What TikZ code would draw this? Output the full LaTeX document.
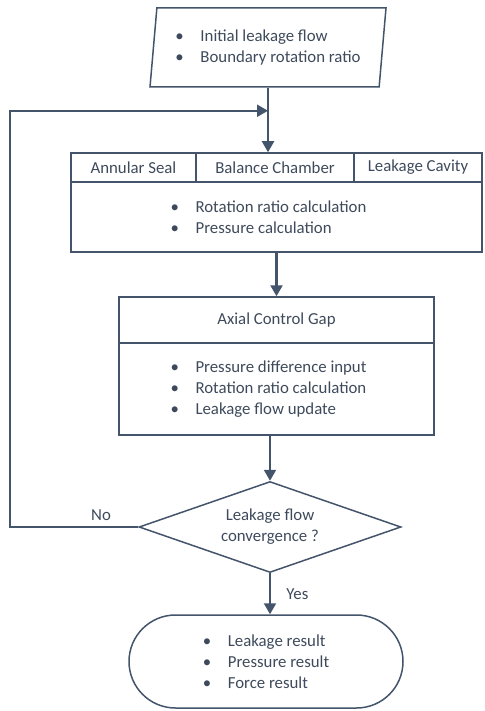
\documentclass[tikz,border=0pt]{standalone}
\usepackage{fontspec}
\setmainfont{Carlito}
\usetikzlibrary{arrows.meta, shapes.geometric, shapes.misc, calc}
\definecolor{mSlate}{HTML}{44546A}
\definecolor{mInk}{HTML}{3E4A5B}
\newcommand{\itm}[1]{\makebox[25pt][l]{\textbullet}#1}

\begin{document}
\begin{tikzpicture}[x=1pt, y=-1pt, font=\fontsize{16.8}{21}\selectfont, text=mInk,
    cell/.style={draw=mSlate, line width=1.5pt, rectangle, inner sep=0pt},
    flow/.style={draw=mSlate, line width=2.2pt, -{Triangle[length=11pt, width=12pt]}}]
    \useasboundingbox (0,0) rectangle (484,711);
    % input: initial guesses
    \node[cell, trapezium, trapezium left angle=79, trapezium right angle=101,
      trapezium stretches body, minimum width=236pt, minimum height=79pt, align=left]
      (inp) at (268,47.5) {\itm{Initial leakage flow}\\ \itm{Boundary rotation ratio}};
    % loop block with three sub-models
    \node[cell, minimum width=125pt, minimum height=29pt] (seal) at (133.5,167.5) {Annular Seal};
    \node[cell, minimum width=158pt, minimum height=29pt] (chamb) at (275,167.5) {Balance Chamber};
    \node[cell, minimum width=128pt, minimum height=29pt] (cav) at (418,167.5) {Leakage Cavity};
    \node[cell, minimum width=411pt, minimum height=70pt, align=left] (loopbody) at (276.5,217)
      {\itm{Rotation ratio calculation}\hspace*{16pt}\\ \itm{Pressure calculation}};
    % axial gap block
    \node[cell, minimum width=315pt, minimum height=46pt] (gap) at (276.5,320) {Axial Control Gap};
    \node[cell, minimum width=315pt, minimum height=92pt, align=left] (gapbody) at (276.5,389)
      {\itm{Pressure difference input}\hspace*{16pt}\\ \itm{Rotation ratio calculation}\\ \itm{Leakage flow update}};
    % decision and result
    \node[cell, diamond, aspect=2.88, minimum width=262pt, minimum height=91pt, align=center]
      (dec) at (270,527) {Leakage flow\\ convergence ?};
    \node[cell, rounded rectangle, minimum width=274pt, minimum height=93pt, align=left]
      (res) at (266,661.5) {\itm{Leakage result}\\ \itm{Pressure result}\\ \itm{Force result}};
    \coordinate (back) at (10,527);
    \coordinate (merge) at ($(inp.south)+(0,23)$);
    % connectors
    \draw[flow] (inp.south) -- (inp.south |- chamb.north);
    \draw[flow] (loopbody.south) -- (loopbody.south |- gap.north);
    \draw[flow] (gapbody.south -| dec.north) -- (dec.north);
    \draw[flow] (dec.south) -- node[right=12pt] {Yes} (dec.south |- res.north);
    \draw[flow] (dec.west) -- node[above, pos=0.29, yshift=2pt] {No} (back) |- (merge);
  \end{tikzpicture}
\end{document}
